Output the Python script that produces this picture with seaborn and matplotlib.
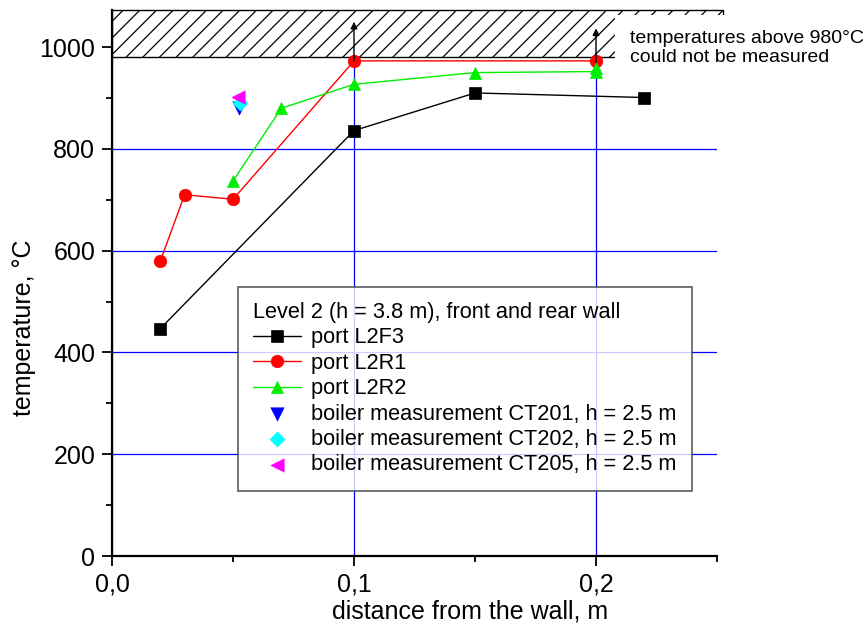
import matplotlib
matplotlib.use("Agg")
import matplotlib.pyplot as plt
from matplotlib.patches import Rectangle
from matplotlib.ticker import MultipleLocator
import seaborn as sns
import pandas as pd

# Level 2 port traverses (distance from wall in m, temperature in °C)
l2f3_x = [0.02, 0.10, 0.15, 0.22]
l2f3_t = [447, 836, 910, 901]

l2r1_x = [0.02, 0.03, 0.05, 0.10, 0.20]
l2r1_t = [580, 710, 701, 973, 973]

l2r2_x = [0.05, 0.07, 0.10, 0.15, 0.20, 0.20]
l2r2_t = [737, 880, 927, 950, 952, 960]

# Boiler thermocouples at h = 2.5 m
boiler_names = ["boiler measurement CT201, h = 2.5 m",
                "boiler measurement CT202, h = 2.5 m",
                "boiler measurement CT205, h = 2.5 m"]
boiler_x = [0.0525, 0.053, 0.052]
boiler_t = [880, 891, 902]

x_ticks = [0.0, 0.1, 0.2]
x_tick_labels = ["0,0", "0,1", "0,2"]
y_ticks = [0, 200, 400, 600, 800, 1000]

limit_t = 980  # upper measurable temperature

sns.set_style("ticks")
plt.rcParams["font.family"] = ["Liberation Sans", "DejaVu Sans"]
plt.rcParams["hatch.linewidth"] = 0.9
plt.rcParams["text.color"] = "black"
plt.rcParams["axes.labelcolor"] = "black"
plt.rcParams["xtick.color"] = "black"
plt.rcParams["ytick.color"] = "black"

fig = plt.figure(figsize=(8.67, 6.28), dpi=100)
ax = fig.add_axes([112 / 867, 1 - 556 / 628, 605 / 867, 546 / 628])

series = [
    (l2f3_x, l2f3_t, "port L2F3", "s", "#000000", 8),
    (l2r1_x, l2r1_t, "port L2R1", "o", "#ff0000", 9),
    (l2r2_x, l2r2_t, "port L2R2", "^", "#00ee00", 9),
]
for xs, ts, name, mk, col, ms in series:
    df = pd.DataFrame({"x": xs, "t": ts})
    sns.lineplot(data=df, x="x", y="t", ax=ax, estimator=None, sort=False,
                 color=col, lw=1.0, marker=mk, markersize=ms,
                 markeredgecolor=col, markeredgewidth=0.5, label=name,
                 zorder=3)

boiler_styles = [("v", "#0000ff", 95), ("D", "#00ffff", 60), ("<", "#ff00ff", 95)]
for name, bx, bt, (mk, col, s) in zip(boiler_names, boiler_x, boiler_t, boiler_styles):
    sns.scatterplot(x=[bx], y=[bt], ax=ax, marker=mk, color=col, s=s,
                    edgecolor=col, linewidth=0.3, label=name, zorder=4)

ax.set_xlim(0, 0.25)
ax.set_ylim(0, 1073)
ax.set_xticks(x_ticks)
ax.set_xticklabels(x_tick_labels)
ax.set_yticks(y_ticks)
ax.xaxis.set_minor_locator(MultipleLocator(0.05))
ax.yaxis.set_minor_locator(MultipleLocator(100))

ax.grid(True, which="major", color="#0000ff", lw=0.9)
ax.set_axisbelow(True)

for side in ("top", "right"):
    ax.spines[side].set_visible(False)
for side in ("left", "bottom"):
    ax.spines[side].set_linewidth(1.6)
    ax.spines[side].set_color("black")
    ax.spines[side].set_zorder(6)

ax.tick_params(which="major", direction="out", length=7, width=1.3,
               labelsize=18, pad=5, color="black", labelcolor="black")
ax.tick_params(which="minor", direction="out", length=4.5, width=1.3,
               color="black")

ax.set_xlabel("distance from the wall, m", fontsize=18, color="black")
ax.set_ylabel("temperature, °C", fontsize=18, color="black")
ax.xaxis.set_label_coords(0.592, -0.08)
ax.yaxis.set_label_coords(-0.125, 0.418)

# hatched band: region above the measurable limit
band = Rectangle((0, limit_t), 0.2525, 1073 - limit_t, facecolor="white",
                 edgecolor="black", hatch="//", lw=1.0, zorder=2.5,
                 clip_on=False)
ax.add_patch(band)

for xa, y0, y1 in [(0.1, 973, 1050), (0.2, 970, 1037)]:
    ax.annotate("", xy=(xa, y1), xytext=(xa, y0),
                arrowprops=dict(arrowstyle="-|>", color="black", lw=1.0,
                                mutation_scale=10, shrinkA=0, shrinkB=0),
                zorder=5)

ax.text(0.214, 998, "temperatures above 980°C\ncould not be measured",
        fontsize=14, va="center", ha="left", linespacing=1.2, zorder=5,
        color="black",
        bbox=dict(boxstyle="square,pad=0.75", facecolor="white",
                  edgecolor="none"), clip_on=False)

leg = ax.legend(title="Level 2 (h = 3.8 m), front and rear wall",
                loc="upper left", bbox_to_anchor=(0.208, 0.493),
                borderaxespad=0, fontsize=15.7, title_fontsize=15.7,
                frameon=True, fancybox=False, edgecolor="#444444",
                handlelength=2.2, handletextpad=0.45, labelspacing=0.2,
                borderpad=0.7)
leg._legend_box.align = "left"
leg.get_frame().set_linewidth(1.3)
leg.get_title().set_color("black")
for t in leg.get_texts():
    t.set_color("black")
leg.set_zorder(7)

fig.savefig("out.png", dpi=100)
